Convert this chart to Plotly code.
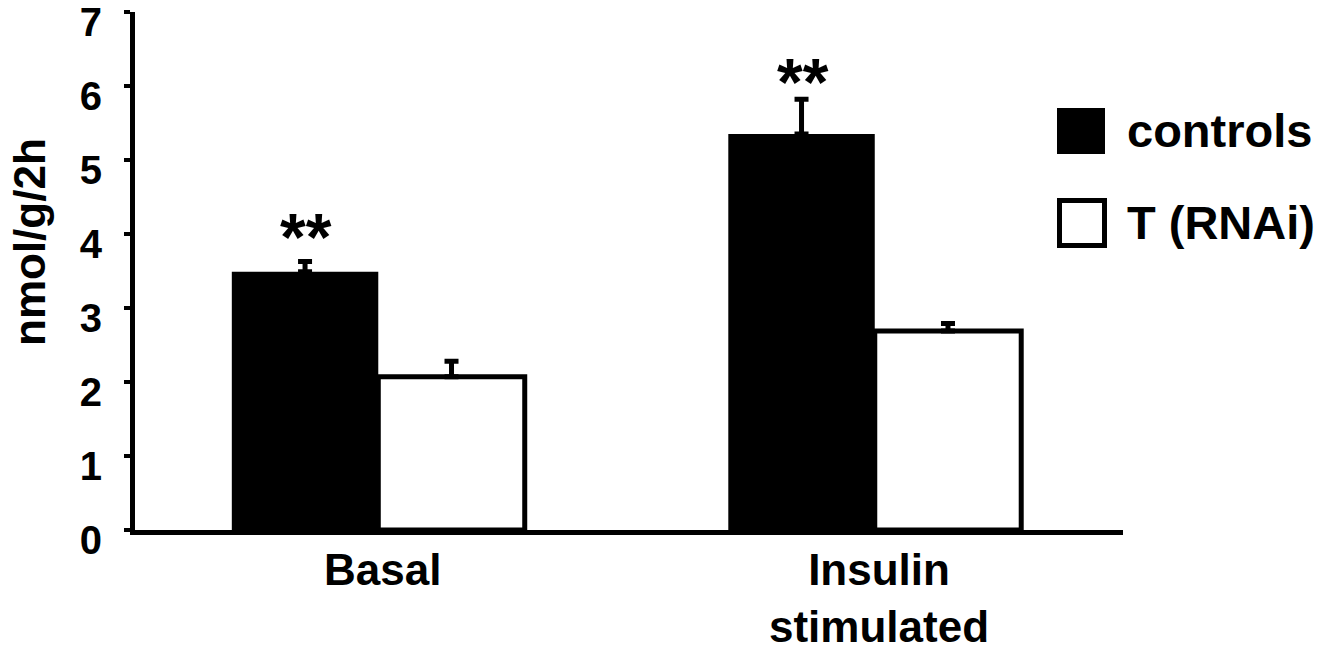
import plotly.graph_objects as go

# ---- data ----
categories = ["Basal", "Insulin<br>stimulated"]
controls = [3.49, 5.35]
controls_err = [0.14, 0.47]
rnai = [2.07, 2.69]
rnai_err = [0.21, 0.10]
series_names = ["controls", "T (RNAi)"]
sig_labels = ["**", "**"]
y_ticks = [0, 1, 2, 3, 4, 5, 6, 7]

# ---- layout geometry (pixels) ----
W, H = 1335, 656
L, R, T, B = 135, 212, 12, 126
PW, PH = W - L - R, H - T - B
star_yshift = [-15, -22]


def px_x(px):
    return (px - L) / PW


def px_y(py):
    return (H - B - py) / PH


FONT = "Liberation Sans, Arial, sans-serif"

fig = go.Figure()
fig.add_trace(go.Bar(
    x=categories, y=controls, name=series_names[0],
    marker=dict(color="black", line=dict(color="black", width=0)),
    error_y=dict(type="data", array=controls_err, arrayminus=[0, 0], symmetric=False,
                 color="black", thickness=5, width=7),
    showlegend=False,
))
fig.add_trace(go.Bar(
    x=categories, y=rnai, name=series_names[1],
    marker=dict(color="white", line=dict(color="black", width=5)),
    error_y=dict(type="data", array=rnai_err, arrayminus=[0, 0], symmetric=False,
                 color="black", thickness=5, width=7),
    showlegend=False,
))

annotations = []
# significance stars above the control bars
for cat, v, e, s, ys in zip(categories, controls, controls_err, sig_labels, star_yshift):
    annotations.append(dict(
        x=cat, y=v + e, xref="x", yref="y", text="<b>%s</b>" % s, showarrow=False,
        xshift=-72, yshift=ys, yanchor="bottom", xanchor="center",
        font=dict(family=FONT, size=66, color="black"),
    ))

# category labels under the axis
for cat in categories:
    annotations.append(dict(
        x=cat, y=0, xref="x", yref="y", text="<b>%s</b>" % cat, showarrow=False,
        yshift=-13, yanchor="top", xanchor="center", xshift=4,
        font=dict(family=FONT, size=44, color="black"),
    ))

# y axis title
annotations.append(dict(
    x=px_x(29), y=px_y(242), xref="paper", yref="paper", text="<b>nmol/g/2h</b>",
    textangle=-90, showarrow=False, xanchor="center", yanchor="middle",
    font=dict(family=FONT, size=44, color="black"),
))

# manual legend
shapes = [
    dict(type="rect", xref="paper", yref="paper",
         x0=px_x(1057), x1=px_x(1105), y0=px_y(154), y1=px_y(108),
         fillcolor="black", line=dict(width=0)),
    dict(type="rect", xref="paper", yref="paper",
         x0=px_x(1059.5), x1=px_x(1104.5), y0=px_y(245.5), y1=px_y(200.5),
         fillcolor="white", line=dict(width=5, color="black")),
]
for name, yc in zip(series_names, [130, 223]):
    annotations.append(dict(
        x=px_x(1125), y=px_y(yc), xref="paper", yref="paper", text="<b>%s</b>" % name,
        showarrow=False, xanchor="left", yanchor="middle",
        font=dict(family=FONT, size=47, color="black"),
    ))

fig.update_layout(
    width=W, height=H,
    margin=dict(l=L, r=R, t=T, b=B, pad=0, autoexpand=False),
    paper_bgcolor="white", plot_bgcolor="white",
    barmode="group", bargap=0.41, bargroupgap=0,
    showlegend=False,
    font=dict(family=FONT, color="black"),
    annotations=annotations,
    shapes=shapes,
    xaxis=dict(
        range=[-0.49, 1.5],
        showline=True, linewidth=5, linecolor="black", ticks="",
        showgrid=False, zeroline=False, automargin=False,
        showticklabels=False,
    ),
    yaxis=dict(
        range=[0, 7.0001], tickvals=y_ticks, ticktext=[str(t) for t in y_ticks],
        showline=True, linewidth=5, linecolor="black",
        ticks="outside", ticklen=6, tickwidth=4, tickcolor="black",
        showgrid=False, zeroline=False, automargin=False,
        tickfont=dict(family=FONT, size=40, color="black", weight="bold"),
        ticklabelstandoff=14, ticklabelshift=10, ticklabeloverflow="allow",
    ),
)

fig.write_html(
    "out.html",
    config={"displayModeBar": False},
    post_script="document.body.style.margin='0';document.body.style.overflow='hidden';",
)
